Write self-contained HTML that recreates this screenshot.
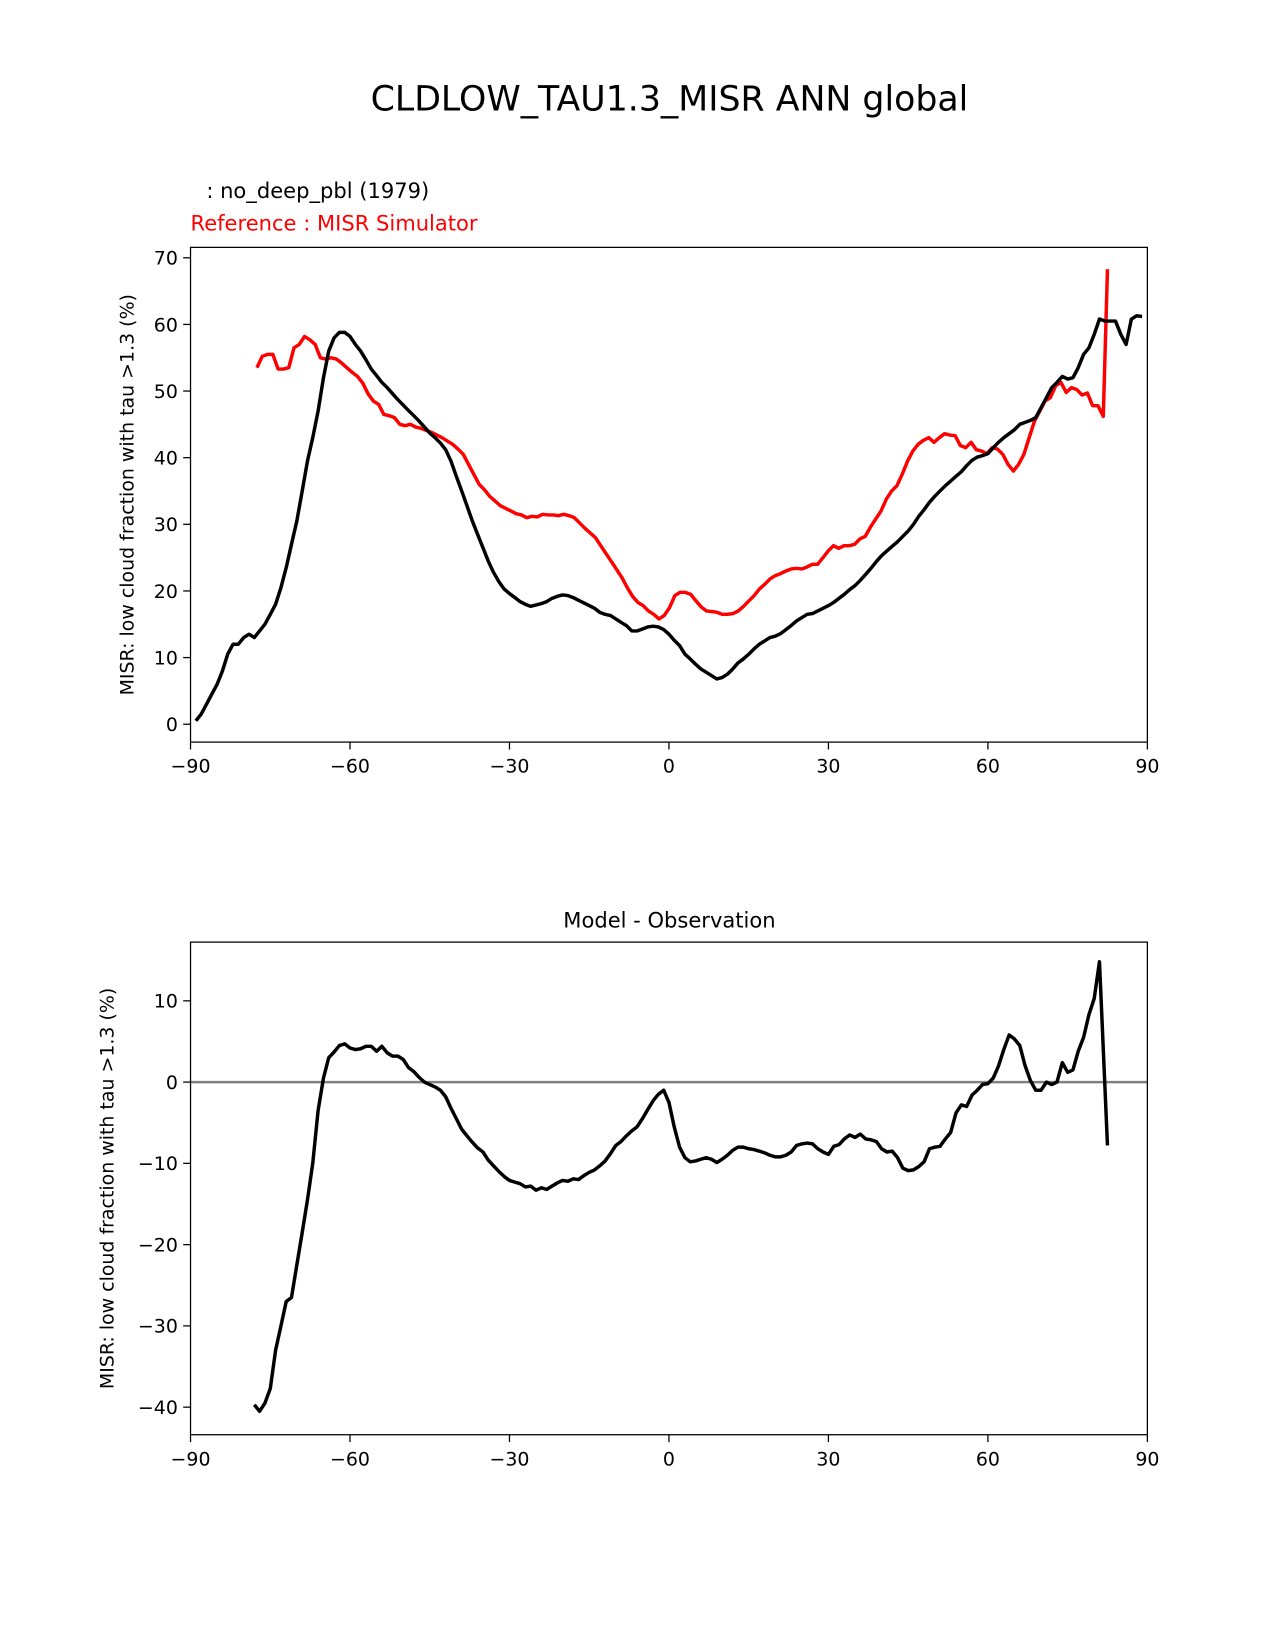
<!DOCTYPE html>
<html><head><meta charset="utf-8"><style>
html,body{margin:0;background:#fff;overflow:hidden}
svg{display:block;font-family:"DejaVu Sans","Liberation Sans",sans-serif}
</style></head><body>
<svg id="fig" width="1275" height="1650" viewBox="0 0 1211.25 1567.5">
<rect width="1211.25" height="1567.5" fill="#fff"/>
<text x="636" y="105" font-size="33" text-anchor="middle">CLDLOW_TAU1.3_MISR ANN global</text>
<text x="196" y="188" font-size="20">: no_deep_pbl (1979)</text>
<text x="181" y="219" font-size="20" fill="#ff0000">Reference : MISR Simulator</text>
<text x="636" y="881" font-size="20" text-anchor="middle">Model - Observation</text>
<g id="top"></g>
<g id="bot"></g>
</svg>
<script>
const modelLat=[];for(let i=-89;i<=80;i++)modelLat.push(i);modelLat.push(81,82,83,84,85,86,87,88,89);
const modelVal=[0.5,1.5,3,4.5,6,8,10.5,12,12,13,13.5,13,14,15,16.5,18,20.5,23.5,27,30.5,35,39.5,43,47,52,56,58,58.8,58.8,58.2,57,56,54.7,53.3,52.3,51.3,50.5,49.6,48.7,47.9,47.1,46.3,45.5,44.6,43.7,43,42.2,41.2,39.5,37.2,35,32.8,30.5,28.5,26.5,24.5,22.8,21.4,20.3,19.6,19,18.4,18,17.7,17.9,18.1,18.4,18.9,19.2,19.4,19.3,19,18.6,18.2,17.8,17.4,16.8,16.5,16.3,15.8,15.3,14.8,14,14,14.3,14.6,14.7,14.6,14.2,13.5,12.6,11.8,10.5,9.8,9,8.3,7.8,7.3,6.8,7,7.5,8.3,9.2,9.8,10.5,11.3,12,12.5,13,13.2,13.6,14.2,14.8,15.5,16,16.5,16.6,17,17.4,17.8,18.3,18.9,19.5,20.2,20.8,21.6,22.5,23.4,24.4,25.3,26,26.7,27.4,28.2,29,30,31.2,32.2,33.3,34.2,35,35.8,36.5,37.2,37.9,38.8,39.6,40.1,40.3,40.6,41.5,42.3,43,43.6,44.2,45,45.3,45.6,46,47.5,49,50.5,51.3,52.2,51.8,52,53.5,55.5,56.5,58.5,60.8,60.5,60.5,60.5,58.5,57,60.8,61.3,61.2];
const obsVal=[53.5,55.2,55.5,55.5,53.3,53.3,53.5,56.5,57,58.2,57.7,57,55,54.8,55,54.8,54.2,53.5,52.8,52.2,51.2,49.6,48.5,48,46.5,46.3,46,45,44.8,45,44.6,44.4,44.1,43.8,43.4,43,42.5,42,41.3,40.5,39,37.5,36,35.2,34.2,33.5,32.8,32.4,32,31.6,31.4,31,31.2,31.1,31.5,31.4,31.4,31.3,31.5,31.3,31,30.2,29.4,28.7,28,26.8,25.6,24.4,23.2,22,20.5,19.2,18.3,17.8,17,16.5,15.8,16.3,17.5,19.3,19.8,19.8,19.5,18.5,17.6,17,16.9,16.8,16.5,16.5,16.6,17,17.7,18.5,19.3,20.3,21,21.8,22.3,22.6,23,23.3,23.4,23.3,23.6,24,24,25,26,26.8,26.4,26.8,26.8,27,27.8,28.2,29.6,30.8,32,33.8,35,35.8,37.5,39.5,41,42,42.6,43,42.3,43,43.6,43.4,43.3,41.8,41.5,42.3,41.2,41,40.6,41.5,41.3,40.5,39,38,39,40.5,43,45.5,47,48.5,49,50.8,51.3,49.8,50.5,50.2,49.4,49.7,47.8,47.8,46.2,68.3];
const obsStart=-77.5, obsPenult=81.7, obsEnd=82.5;
const obsLat=[];for(let i=0;i<obsVal.length-1;i++)obsLat.push(obsStart+i*(obsPenult-obsStart)/(obsVal.length-2));obsLat.push(obsEnd);
const diffLat=[];for(let i=-78;i<=81;i++)diffLat.push(i);diffLat.push(82.5);
const diffVal=[-39.7,-40.5,-39.5,-37.7,-33,-30,-27,-26.5,-22.5,-18.5,-14.5,-10,-3.5,0.5,3,3.7,4.5,4.7,4.2,4,4.1,4.4,4.4,3.8,4.4,3.6,3.2,3.2,2.8,1.8,1.3,0.6,0,-0.3,-0.6,-1,-1.8,-3.2,-4.5,-5.8,-6.6,-7.4,-8.1,-8.6,-9.6,-10.3,-11,-11.6,-12.1,-12.3,-12.5,-12.9,-12.8,-13.3,-13,-13.2,-12.8,-12.4,-12.1,-12.2,-11.9,-12,-11.5,-11.1,-10.8,-10.3,-9.7,-8.8,-7.8,-7.3,-6.6,-6,-5.5,-4.5,-3.4,-2.3,-1.5,-1,-2.5,-5.5,-8,-9.3,-9.8,-9.7,-9.5,-9.3,-9.5,-9.9,-9.5,-9,-8.4,-8,-8,-8.2,-8.3,-8.5,-8.7,-9,-9.2,-9.2,-9,-8.6,-7.8,-7.6,-7.5,-7.6,-8.2,-8.6,-8.9,-7.9,-7.7,-7,-6.5,-6.8,-6.4,-7,-7.1,-7.3,-8.2,-8.6,-8.5,-9.3,-10.6,-10.9,-10.8,-10.4,-9.8,-8.2,-8,-7.9,-7,-6.2,-3.8,-2.8,-3,-1.6,-1,-0.3,-0.2,0.5,2,4,5.8,5.3,4.5,2,0.2,-1,-1,0,-0.3,0,2.4,1.2,1.5,3.8,5.5,8.3,10.3,14.8,-7.8];
const xTicks=[-90,-60,-30,0,30,60,90];
const topYTicks=[0,10,20,30,40,50,60,70];
const botYTicks=[-40,-30,-20,-10,0,10];
const NS='http://www.w3.org/2000/svg';
function mk(p,t,a){const e=document.createElementNS(NS,t);for(const k in a)e.setAttribute(k,a[k]);p.appendChild(e);return e;}
function panel(g,top,bot,y0px,pxPer,yTicks,ylab,labX,series,zero,pre){
  const L=181,R=1090;
  const X=v=>L+(v+90)/180*(R-L);
  const Y=v=>y0px-v*pxPer;
  if(zero){const z=mk(g,'line',{x1:L,x2:R,y1:Y(0),y2:Y(0),stroke:'#808080','stroke-width':2.4});
    
    }
  series.forEach(s=>{
    const n=Math.min(s.lat.length,s.val.length);
    let d='';for(let i=0;i<n;i++)d+=(i?'L':'M')+X(s.lat[i]).toFixed(1)+' '+Y(s.val[i]).toFixed(1)+' ';
    const p=mk(g,'path',{d:d,fill:'none',stroke:s.color,'stroke-width':3.3,'stroke-linejoin':'round'});
    
    
  });
  const fr=mk(g,'rect',{x:L,y:top,width:R-L,height:bot-top,fill:'none',stroke:'#000','stroke-width':1.2});
  
  
  xTicks.forEach(t=>{
    mk(g,'line',{x1:X(t),x2:X(t),y1:bot,y2:bot+7,stroke:'#000','stroke-width':1.2});
    const tx=mk(g,'text',{x:X(t),y:bot+29,'font-size':18,'text-anchor':'middle'});
    tx.textContent=(t<0?'\u2212'+(-t):t);
    
    
  });
  yTicks.forEach(t=>{
    mk(g,'line',{x1:L-7,x2:L,y1:Y(t),y2:Y(t),stroke:'#000','stroke-width':1.2});
    const tx=mk(g,'text',{x:L-12,y:Y(t)+6.5,'font-size':18,'text-anchor':'end'});
    tx.textContent=(t<0?'\u2212'+(-t):t);
    
    
  });
  const cy=(top+bot)/2;
  const yl=mk(g,'text',{x:labX,y:cy,'font-size':18,'text-anchor':'middle',transform:'rotate(-90 '+labX+' '+cy+')'});
  yl.textContent=ylab;
  
  
}
const lab='MISR: low cloud fraction with tau >1.3 (%)';
panel(document.getElementById('top'),235,705,688,63.3/10,topYTicks,lab,127,
  [{lat:obsLat,val:obsVal,color:'#ff0000',name:'reference-line'},{lat:modelLat,val:modelVal,color:'#000',name:'model-line'}],false,'top');
panel(document.getElementById('bot'),895,1363,1028,7.72,botYTicks,lab,108,
  [{lat:diffLat,val:diffVal,color:'#000',name:'difference-line'}],true,'diff');
</script>
</body></html>
